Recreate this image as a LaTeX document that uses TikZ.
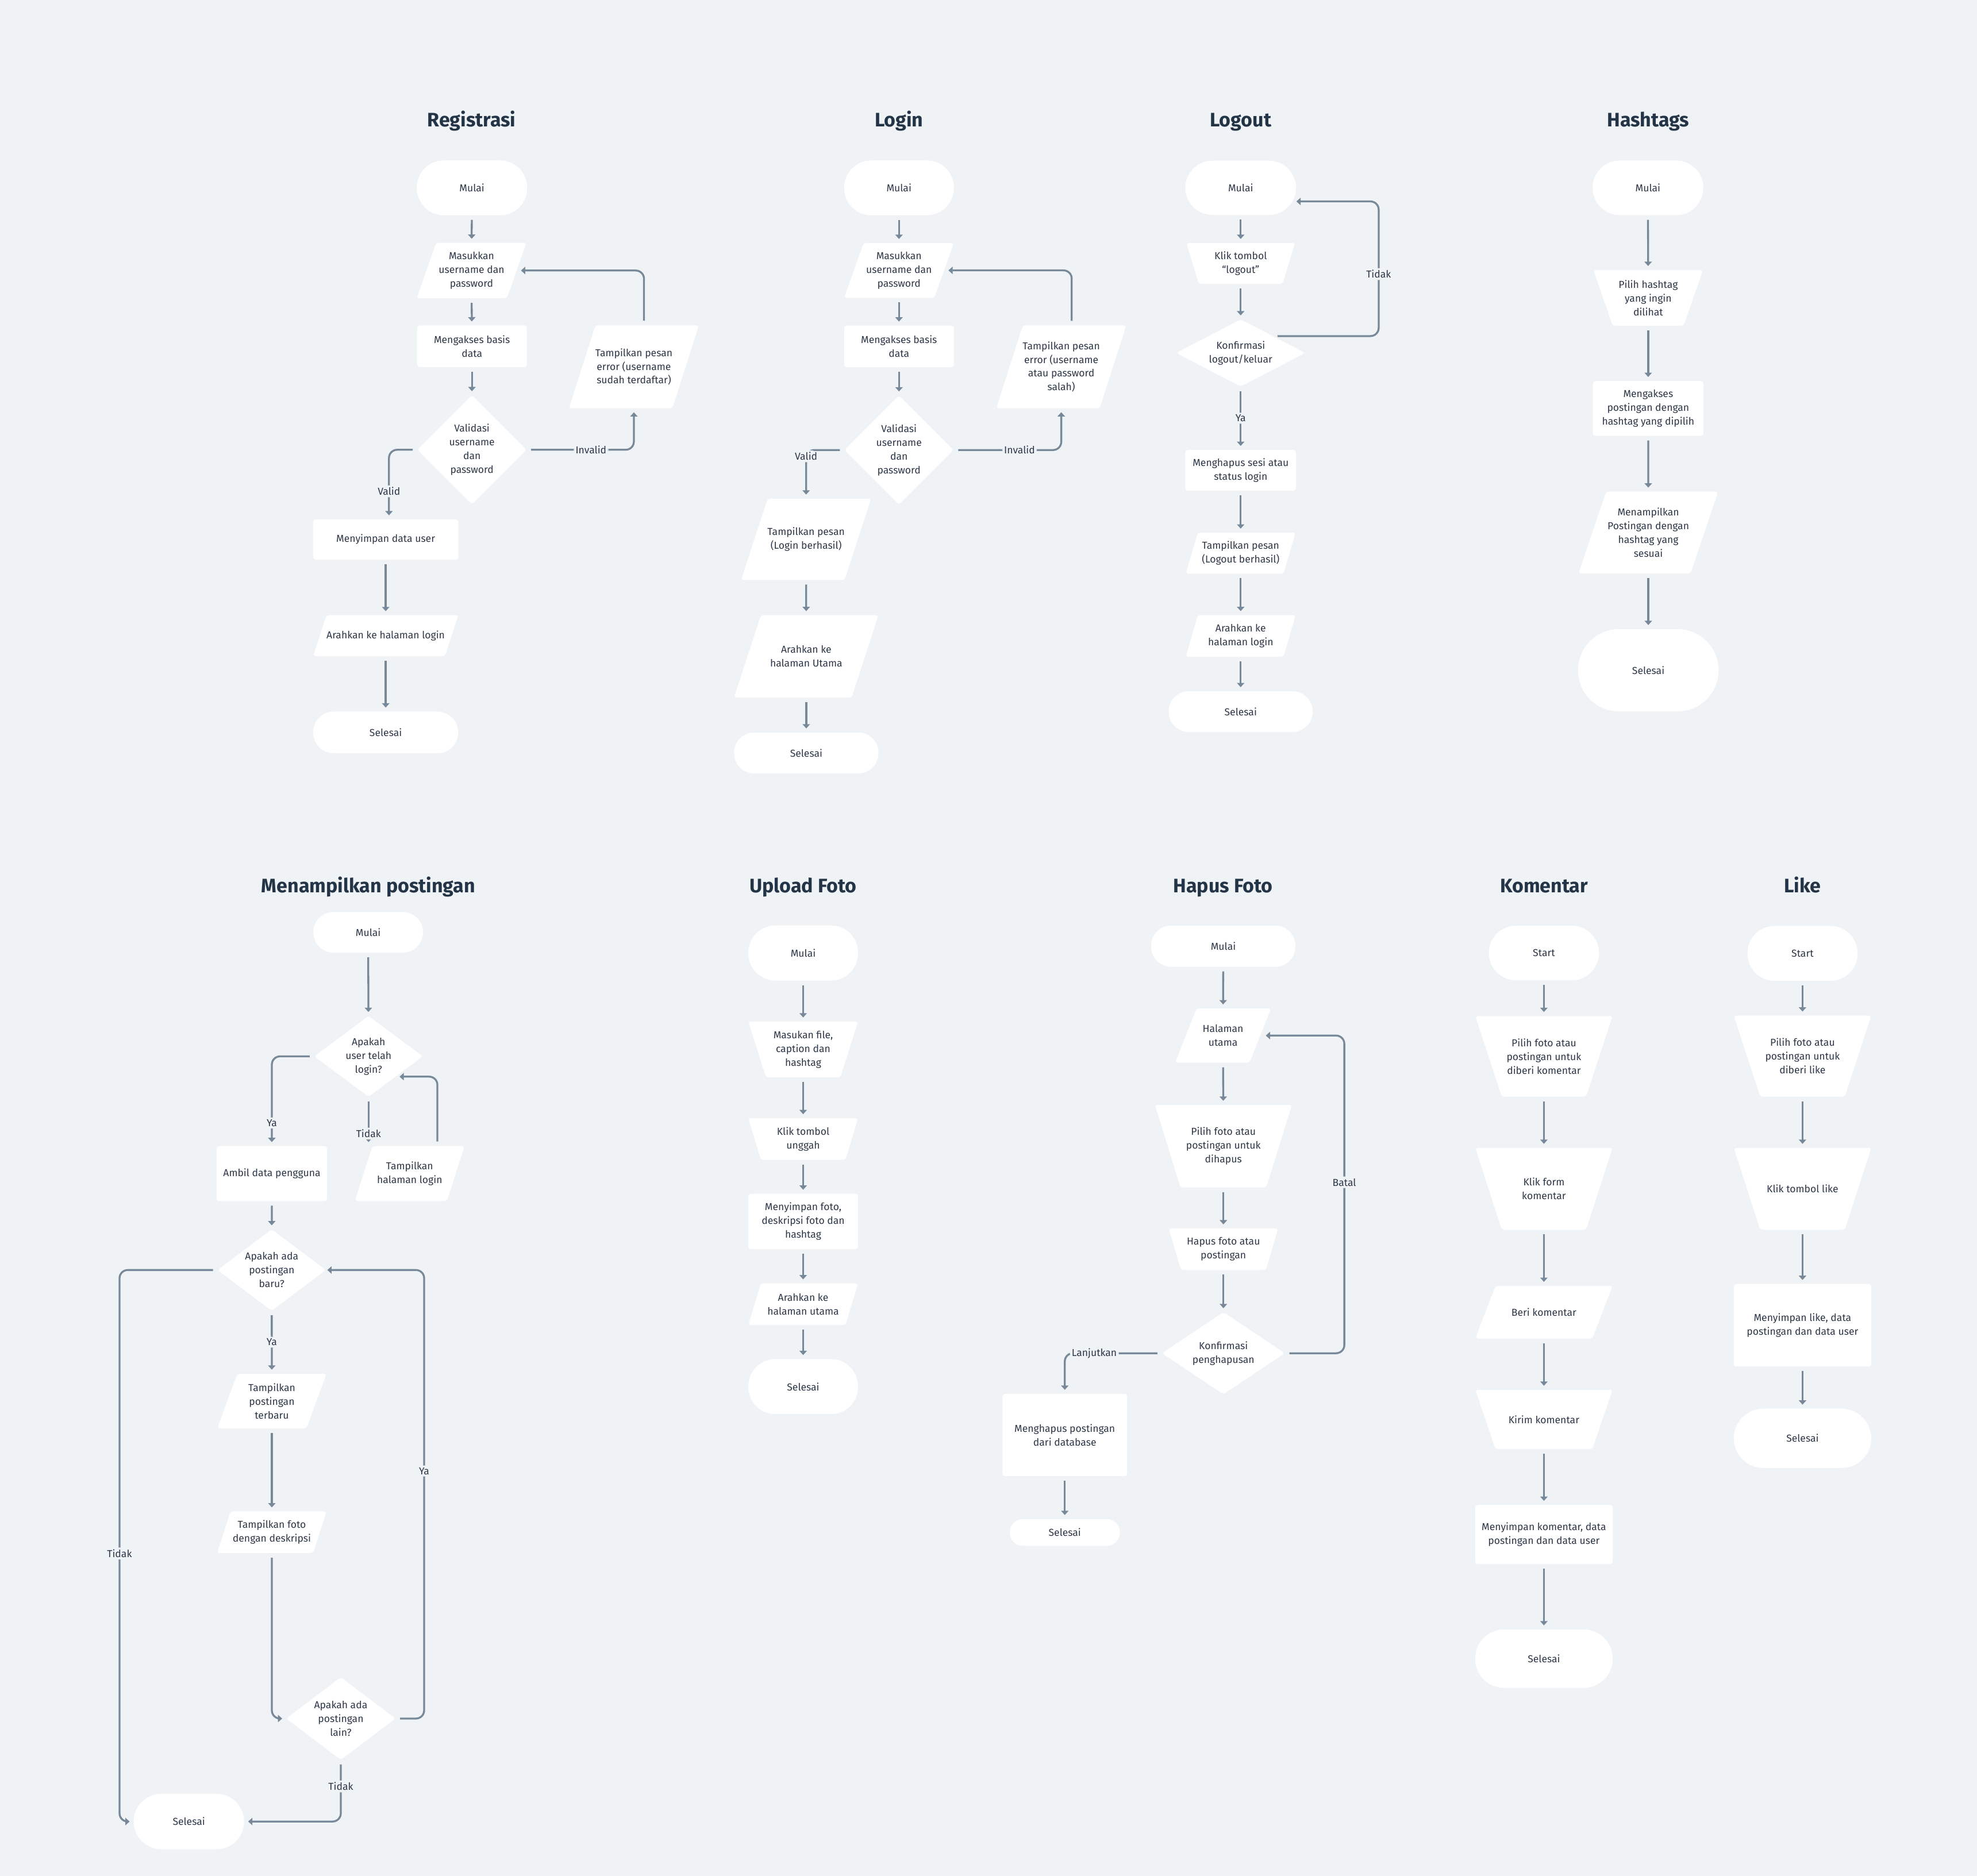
\documentclass[tikz,border=0pt]{standalone}
\usepackage{fontspec}
\setmainfont{Fira Sans}
\usetikzlibrary{arrows.meta,calc}
\definecolor{bgc}{HTML}{F0F3F6}
\definecolor{linec}{HTML}{778899}
\definecolor{txtc}{HTML}{2D3748}
\definecolor{titc}{HTML}{243447}
\tikzset{
 txt/.style={inner sep=0pt, align=center, text=txtc, font=\fontsize{8}{10.9}\selectfont},
 nf/.style={fill=white, rounded corners=2pt},
 ttl/.style={anchor=base, text=titc, font=\fontsize{15.5}{18}\selectfont\bfseries},
 arr/.style={draw=linec, line width=1.5pt, -{Triangle[width=5.8pt,length=3.4pt]}, shorten <=3.5pt, shorten >=3pt, rounded corners=6.5pt},
 lbl/.style={fill=bgc, inner sep=1.5pt, text=txtc, font=\fontsize{8}{10}\selectfont},
}
% parallelogram: name,x,y,w,h,slant,text
\newcommand\shpP[7]{%
  \fill[nf] ({#2-(#4)/2+#6},{#3-(#5)/2}) -- ({#2+(#4)/2},{#3-(#5)/2}) -- ({#2+(#4)/2-#6},{#3+(#5)/2}) -- ({#2-(#4)/2},{#3+(#5)/2}) -- cycle;
  \node[txt,minimum width=#4pt,minimum height=#5pt] (#1) at (#2,#3) {#7};}
% inverted trapezoid (top wider)
\newcommand\shpT[7]{%
  \fill[nf] ({#2-(#4)/2},{#3-(#5)/2}) -- ({#2+(#4)/2},{#3-(#5)/2}) -- ({#2+(#4)/2-#6},{#3+(#5)/2}) -- ({#2-(#4)/2+#6},{#3+(#5)/2}) -- cycle;
  \node[txt,minimum width=#4pt,minimum height=#5pt] (#1) at (#2,#3) {#7};}
% diamond
\newcommand\shpD[6]{%
  \fill[nf] ({#2},{#3-(#5)/2}) -- ({#2+(#4)/2},{#3}) -- ({#2},{#3+(#5)/2}) -- ({#2-(#4)/2},{#3}) -- cycle;
  \node[txt,minimum width=#4pt,minimum height=#5pt] (#1) at (#2,#3) {#6};}
% rectangle
\newcommand\shpR[6]{\node[txt,fill=white,rounded corners=2pt,minimum width=#4pt,minimum height=#5pt] (#1) at (#2,#3) {#6};}
% stadium: name,x,y,w,h,radius,text
\newcommand\shpS[7]{\node[txt,fill=white,rounded corners=#6pt,minimum width=#4pt,minimum height=#5pt] (#1) at (#2,#3) {#7};}

\begin{document}
\begin{tikzpicture}[x=1pt,y=-1pt]
\useasboundingbox (0,0) rectangle (1568,1488.2);
\fill[bgc] (0,0) rectangle (1568,1488.2);

% ================= Registrasi =================
\node[ttl] (t1) at (374,100.5) {Registrasi};
\shpS{r1}{374.3}{149}{87.5}{43.5}{21.5}{Mulai}
\shpP{r2}{374}{214.6}{87}{44}{15.5}{Masukkan\\username dan\\password}
\shpR{r3}{374.3}{274.7}{87}{33}{Mengakses basis\\data}
\shpD{rv}{374.3}{356.8}{86.5}{86.5}{Validasi\\username\\dan\\password}
\shpR{ms}{305.9}{428}{115}{32}{Menyimpan data user}
\shpP{ra}{305.9}{504.3}{115}{32.5}{10.5}{Arahkan ke halaman login}
\shpS{rs}{305.9}{581}{115}{33}{16.4}{Selesai}
\shpP{re}{502.75}{291}{103}{65.7}{21}{Tampilkan pesan\\error (username\\sudah terdaftar)}
\draw[arr] (r1) -- (r2);
\draw[arr] (r2) -- (r3);
\draw[arr] (r3) -- (rv);
\draw[arr] (rv.west) -| node[lbl,pos=0.80]{Valid} ([xshift=2.6pt]ms.north);
\draw[arr] (ms) -- (ra);
\draw[arr] (ra) -- (rs);
\draw[arr] (rv.east) -| node[lbl,pos=0.3]{Invalid} (re.south);
\draw[arr] ([xshift=8pt]re.north) |- ([xshift=-7.5pt]r2.east);

% ================= Login =================
\node[ttl] (t2) at (713,100.5) {Login};
\shpS{l1}{713}{149}{87}{43.5}{21.5}{Mulai}
\shpP{l2}{713}{214.5}{87}{43.5}{15.5}{Masukkan\\username dan\\password}
\shpR{l3}{713}{274.8}{87}{33}{Mengakses basis\\data}
\shpD{lv}{713}{357}{86.5}{86.5}{Validasi\\username\\dan\\password}
\shpP{lt}{639.35}{427.8}{103}{64.5}{21}{Tampilkan pesan\\(Login berhasil)}
\shpP{lu}{639.45}{520.7}{114.5}{65.4}{21.3}{Arahkan ke\\halaman Utama}
\shpS{ls}{639.45}{597.3}{114.5}{32.5}{16}{Selesai}
\shpP{le}{841.7}{291}{103}{65.6}{21}{Tampilkan pesan\\error (username\\atau password\\salah)}
\draw[arr] (l1) -- (l2);
\draw[arr] (l2) -- (l3);
\draw[arr] (l3) -- (lv);
\draw[arr] (lv.west) -| node[lbl,pos=0.565]{Valid} (lt.north);
\draw[arr] (lt) -- (lu);
\draw[arr] (lu) -- (ls);
\draw[arr] (lv.east) -| node[lbl,pos=0.306]{Invalid} (le.south);
\draw[arr] ([xshift=8.3pt]le.north) |- ([xshift=-7.5pt]l2.east);

% ================= Logout =================
\node[ttl] (t3) at (984,100.5) {Logout};
\shpS{o1}{984}{149}{87.8}{43}{21.5}{Mulai}
\shpT{o2}{984}{209}{86.2}{32.5}{10}{Klik tombol\\“logout”}
\shpD{ov}{984}{280}{102.2}{53.2}{Konfirmasi\\logout/keluar}
\shpR{o3}{984}{373.1}{87.8}{32.3}{Menghapus sesi atau\\status login}
\shpP{o4}{984}{438.8}{87}{32.5}{9.5}{Tampilkan pesan\\(Logout berhasil)}
\shpP{o5}{984}{504.5}{87}{33}{9.5}{Arahkan ke\\halaman login}
\shpS{o6}{984}{564.5}{114.2}{32.3}{16}{Selesai}
\draw[arr] (o1) -- (o2);
\draw[arr] (o2) -- (ov);
\draw[arr] ($(ov.north)!0.5!(ov.east)$) -- ++(83.8,0) |- node[lbl,pos=0.23]{Tidak} ([xshift=-2.9pt,yshift=-10.8pt]o1.east);
\draw[arr] (ov) -- node[lbl,pos=0.5]{Ya} (o3);
\draw[arr] (o3) -- (o4);
\draw[arr] (o4) -- (o5);
\draw[arr] (o5) -- (o6);

% ================= Hashtags =================
\node[ttl] (t4) at (1307.2,100.5) {Hashtags};
\shpS{h1}{1307}{149}{87.7}{43.3}{21.5}{Mulai}
\shpT{h2}{1307.2}{236.3}{86.8}{44.2}{15.3}{Pilih hashtag\\yang ingin\\dilihat}
\shpR{h3}{1307.2}{324}{87.7}{43.5}{Mengakses\\postingan dengan\\hashtag yang dipilih}
\shpP{h4}{1307.3}{422.5}{110.8}{65}{22}{Menampilkan\\Postingan dengan\\hashtag yang\\sesuai}
\shpS{h5}{1307.3}{531.7}{111.4}{65.3}{32.5}{Selesai}
\draw[arr] (h1) -- (h2);
\draw[arr] (h2) -- (h3);
\draw[arr] (h3) -- (h4);
\draw[arr] (h4) -- (h5);

% ================= Menampilkan postingan =================
\node[ttl] (t5) at (292.2,708) {Menampilkan postingan};
\shpS{m1}{292}{739.6}{87}{32.2}{16}{Mulai}
\shpD{md1}{292.3}{838}{86}{64}{Apakah\\user telah\\login?}
\shpP{mhl}{324.9}{931}{87}{43.6}{14}{Tampilkan\\halaman login}
\shpR{mad}{215.6}{931}{87.6}{43.6}{Ambil data pengguna}
\shpD{md2}{215.5}{1007.5}{85.8}{64.5}{Apakah ada\\postingan\\baru?}
\shpP{mpt}{215.6}{1111.5}{86.7}{43.5}{16}{Tampilkan\\postingan\\terbaru}
\shpP{mfd}{215.6}{1215.5}{86.7}{33}{10.6}{Tampilkan foto\\dengan deskripsi}
\shpD{md3}{270.3}{1363.3}{86.6}{65.5}{Apakah ada\\postingan\\lain?}
\shpS{msel}{149.8}{1445}{87.6}{44}{22}{Selesai}
\draw[arr] (m1) -- (md1);
\draw[arr] (md1.west) -| node[lbl,pos=0.872]{Ya} (mad.north);
\draw[arr] (md1.south) -- node[lbl,pos=0.75]{Tidak} (md1.south |- mhl.north);
\draw[arr] ([xshift=22pt]mhl.north) |- ($(md1.south)!0.5!(md1.east)$);
\draw[arr] (mad) -- (md2);
\draw[arr] (md2.west) -- ++(-77.6,0) |- node[lbl,pos=0.257]{Tidak} (msel.west);
\draw[arr] (md2) -- node[lbl,pos=0.5]{Ya} (mpt);
\draw[arr] (mpt) -- (mfd);
\draw[arr] (mfd.south) |- (md3.west);
\draw[arr] (md3.east) -- ++(22.6,0) |- node[lbl,pos=0.276]{Ya} ([xshift=-2pt]md2.east);
\draw[arr] (md3.south) |- node[lbl,pos=0.214]{Tidak} (msel.east);

% ================= Upload Foto =================
\node[ttl] (t6) at (637,708) {Upload Foto};
\shpS{u1}{637}{756}{87}{43.7}{21.5}{Mulai}
\shpT{u2}{637}{832.5}{87}{44.3}{14}{Masukan file,\\caption dan\\hashtag}
\shpT{u3}{637}{903.6}{87}{33}{10}{Klik tombol\\unggah}
\shpR{u4}{637}{969}{87}{44}{Menyimpan foto,\\deskripsi foto dan\\hashtag}
\shpP{u5}{637}{1034.6}{87}{33}{10}{Arahkan ke\\halaman utama}
\shpS{u6}{637}{1100}{87}{43.7}{21.5}{Selesai}
\draw[arr] (u1) -- (u2);
\draw[arr] (u2) -- (u3);
\draw[arr] (u3) -- (u4);
\draw[arr] (u4) -- (u5);
\draw[arr] (u5) -- (u6);

% ================= Hapus Foto =================
\node[ttl] (t7) at (970,708) {Hapus Foto};
\shpS{p1}{970.2}{750.6}{114.4}{32.7}{16}{Mulai}
\shpP{p2}{970}{821.5}{76}{43}{17}{Halaman\\utama}
\shpT{p3}{970.3}{909.2}{108.6}{65.5}{20.3}{Pilih foto atau\\postingan untuk\\dihapus}
\shpT{p4}{970.3}{991}{86.6}{33}{9.6}{Hapus foto atau\\postingan}
\shpD{pd}{970.3}{1073.5}{97.4}{65}{Konfirmasi\\penghapusan}
\shpR{pm}{844.5}{1138.4}{98.8}{65.3}{Menghapus postingan\\dari database}
\shpS{ps}{844.5}{1215.7}{87.3}{21.3}{10.5}{Selesai}
\draw[arr] (p1) -- (p2);
\draw[arr] (p2) -- (p3);
\draw[arr] (p3) -- (p4);
\draw[arr] (p4) -- (pd);
\draw[arr] (pd.east) -- ++(47,0) |- node[lbl,pos=0.269]{Batal} ([xshift=-7.3pt]p2.east);
\draw[arr] (pd.west) -| node[lbl,pos=0.348]{Lanjutkan} (pm.north);
\draw[arr] (pm) -- (ps);

% ================= Komentar =================
\node[ttl] (t8) at (1224.6,708) {Komentar};
\shpS{k1}{1224.5}{756}{87.3}{43.3}{21.5}{Start}
\shpT{k2}{1224.5}{838}{108.8}{64}{21}{Pilih foto atau\\postingan untuk\\diberi komentar}
\shpT{k3}{1224.5}{943.1}{108.8}{65}{21}{Klik form\\komentar}
\shpP{k4}{1224.5}{1041}{108.8}{41.8}{16}{Beri komentar}
\shpT{k5}{1224.5}{1126}{108.8}{47}{16}{Kirim komentar}
\shpR{k6}{1224.5}{1217.3}{109}{47}{Menyimpan komentar, data\\postingan dan data user}
\shpS{k7}{1224.5}{1315.8}{109}{46.4}{23}{Selesai}
\draw[arr] (k1) -- (k2);
\draw[arr] (k2) -- (k3);
\draw[arr] (k3) -- (k4);
\draw[arr] (k4) -- (k5);
\draw[arr] (k5) -- (k6);
\draw[arr] (k6) -- (k7);

% ================= Like =================
\node[ttl] (t9) at (1429.6,708) {Like};
\shpS{q1}{1429.6}{756.3}{87.3}{43.5}{21.5}{Start}
\shpT{q2}{1429.6}{837.8}{109}{64.3}{21}{Pilih foto atau\\postingan untuk\\diberi like}
\shpT{q3}{1429.6}{943.1}{109}{65}{21}{Klik tombol like}
\shpR{q4}{1429.6}{1051.3}{109}{65.4}{Menyimpan like, data\\postingan dan data user}
\shpS{q5}{1429.6}{1141}{109}{47}{23.5}{Selesai}
\draw[arr] (q1) -- (q2);
\draw[arr] (q2) -- (q3);
\draw[arr] (q3) -- (q4);
\draw[arr] (q4) -- (q5);
\end{tikzpicture}
\end{document}
